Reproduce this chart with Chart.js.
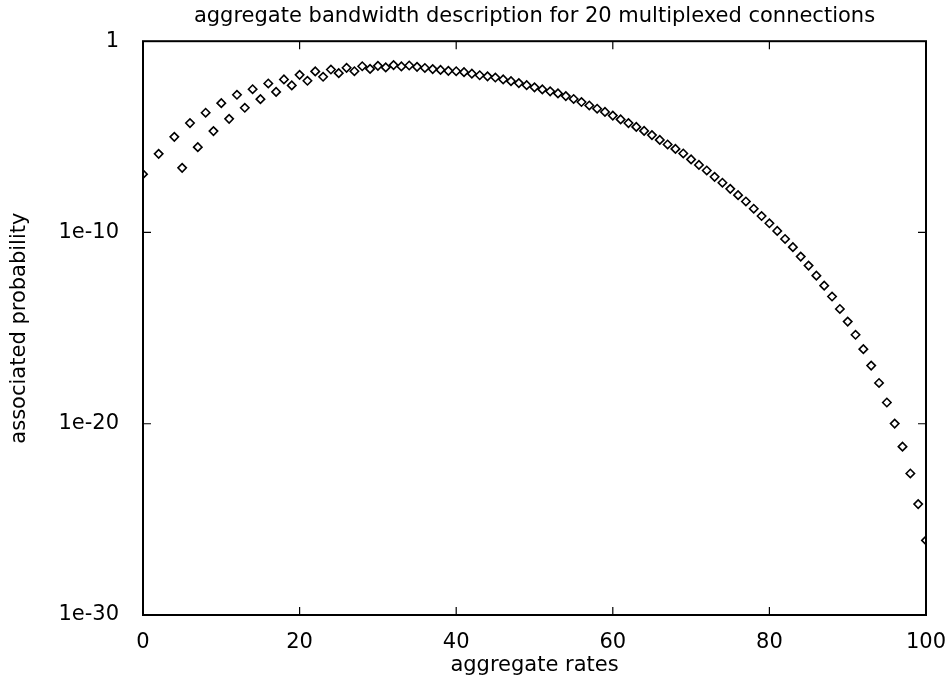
<!DOCTYPE html>
<html>
<head>
<meta charset="utf-8">
<script src="https://cdn.jsdelivr.net/npm/chart.js@4.4.1/dist/chart.umd.min.js"></script>
<style>
  body { margin: 0; background: #fff; }
  canvas { display: block; }
</style>
</head>
<body>
<canvas id="bwChart" width="946" height="679"></canvas>
<script>
// aggregate rates (odd rates 1 and 3 are not plotted in the original)
const rates = [
  0, 2, 4, 5, 6, 7, 8, 9, 10, 11, 12, 13, 14, 15, 16, 17, 18, 19, 20,
  21, 22, 23, 24, 25, 26, 27, 28, 29, 30, 31, 32, 33, 34, 35, 36, 37, 38, 39, 40,
  41, 42, 43, 44, 45, 46, 47, 48, 49, 50, 51, 52, 53, 54, 55, 56, 57, 58, 59, 60,
  61, 62, 63, 64, 65, 66, 67, 68, 69, 70, 71, 72, 73, 74, 75, 76, 77, 78, 79, 80,
  81, 82, 83, 84, 85, 86, 87, 88, 89, 90, 91, 92, 93, 94, 95, 96, 97, 98, 99, 100
]

// associated probability
const probability = [
  1.12e-7, 1.29e-6, 1.0e-5, 2.40e-7, 5.25e-5, 2.88e-6, 1.82e-4, 2.0e-5, 5.75e-4, 8.71e-5,
  1.58e-3, 3.31e-4, 3.09e-3, 9.33e-4, 6.17e-3, 2.24e-3, 1.0e-2, 4.90e-3, 1.74e-2,
  8.51e-3, 2.63e-2, 1.38e-2, 3.31e-2, 2.14e-2, 4.07e-2, 2.69e-2, 4.90e-2, 3.55e-2, 5.13e-2,
  4.27e-2, 5.62e-2, 4.79e-2, 5.37e-2, 4.57e-2, 3.98e-2, 3.47e-2, 3.16e-2, 2.82e-2, 2.69e-2,
  2.40e-2, 2.0e-2, 1.66e-2, 1.45e-2, 1.26e-2, 1.0e-2, 8.13e-3, 6.46e-3, 5.01e-3, 3.89e-3,
  3.02e-3, 2.40e-3, 1.86e-3, 1.35e-3, 9.55e-4, 6.61e-4, 4.37e-4, 2.95e-4, 2.0e-4, 1.29e-4,
  8.13e-5, 5.25e-5, 3.31e-5, 2.04e-5, 1.23e-5, 6.92e-6, 3.98e-6, 2.34e-6, 1.35e-6, 6.61e-7,
  3.39e-7, 1.74e-7, 8.13e-8, 3.98e-8, 1.91e-8, 8.91e-9, 4.17e-9, 1.74e-9, 7.24e-10, 3.02e-10,
  1.20e-10, 4.57e-11, 1.70e-11, 5.50e-12, 1.86e-12, 5.50e-13, 1.66e-13, 4.47e-14, 1.0e-14, 2.19e-15,
  4.47e-16, 7.94e-17, 1.10e-17, 1.35e-18, 1.29e-19, 1.02e-20, 6.31e-22, 2.51e-23, 6.31e-25, 7.94e-27
]

const xTicks = [0, 20, 40, 60, 80, 100]
const yTicks = [1e-30, 1e-20, 1e-10, 1]

const FONT = 'DejaVu Sans'
Chart.defaults.color = '#000'
Chart.defaults.font.family = FONT

// gnuplot-like frame with inward tick marks on all four sides
const framePlugin = {
  id: 'frame',
  afterDatasetsDraw(chart) {
    const { ctx, chartArea: a, scales: { x, y } } = chart
    const len = 8
    ctx.save()
    ctx.strokeStyle = '#000'
    ctx.lineWidth = 1.2
    ctx.beginPath()
    for (const v of xTicks.slice(1, -1)) {
      const px = x.getPixelForValue(v)
      ctx.moveTo(px, a.bottom); ctx.lineTo(px, a.bottom - len)
      ctx.moveTo(px, a.top); ctx.lineTo(px, a.top + len)
    }
    for (const v of yTicks.slice(1, -1)) {
      const py = y.getPixelForValue(v)
      ctx.moveTo(a.left, py); ctx.lineTo(a.left + len, py)
      ctx.moveTo(a.right, py); ctx.lineTo(a.right - len, py)
    }
    ctx.stroke()
    ctx.lineWidth = 2
    ctx.strokeRect(a.left, a.top, a.right - a.left, a.bottom - a.top)
    ctx.restore()
  },
}

new Chart(document.getElementById('bwChart'), {
  type: 'scatter',
  data: {
    datasets: [{
      data: rates.map((r, i) => ({ x: r, y: probability[i] })),
      pointStyle: 'rectRot',
      pointRadius: 4.2,
      pointBorderWidth: 1.6,
      borderColor: '#000',
      backgroundColor: 'rgba(0,0,0,0)',
    }],
  },
  options: {
    responsive: false,
    animation: false,
    layout: { padding: { left: 0, right: 20, top: 0, bottom: 0 } },
    plugins: {
      legend: { display: false },
      tooltip: { enabled: false },
      title: {
        display: true,
        fullSize: false,
        text: 'aggregate bandwidth description for 20 multiplexed connections',
        font: { family: FONT, size: 21, weight: 'normal' },
        padding: { top: 4, bottom: 12 },
      },
    },
    scales: {
      x: {
        type: 'linear',
        min: 0,
        max: 100,
        afterBuildTicks: (scale) => { scale.ticks = xTicks.map(value => ({ value })) },
        afterFit: (scale) => {
          scale.height = 64
          scale.paddingLeft = 0
          scale.paddingRight = 0
        },
        grid: { display: false },
        border: { display: false },
        ticks: { font: { size: 21 }, padding: 7, maxRotation: 0 },
        title: {
          display: true,
          text: 'aggregate rates',
          font: { size: 21 },
          padding: { top: 0, bottom: 1 },
        },
      },
      y: {
        type: 'logarithmic',
        min: 1e-30,
        max: 1,
        afterBuildTicks: (scale) => { scale.ticks = yTicks.map(value => ({ value })) },
        afterFit: (scale) => {
          scale.width = 143
          scale.paddingTop = 0
          scale.paddingBottom = 0
        },
        grid: { display: false },
        border: { display: false },
        ticks: {
          font: { size: 21 },
          padding: 16,
          callback: (v) => (v === 1 ? '1' : `1e${Math.round(Math.log10(v))}`),
        },
        title: {
          display: true,
          text: 'associated probability',
          font: { size: 21 },
          padding: { top: 7, bottom: 0 },
        },
      },
    },
  },
  plugins: [framePlugin],
})
</script>
</body>
</html>
